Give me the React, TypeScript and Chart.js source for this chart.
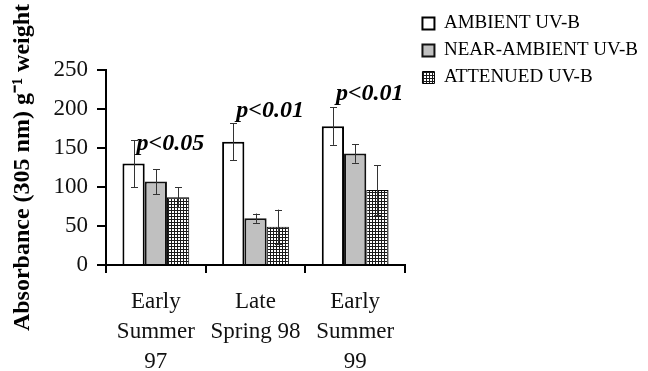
import React, { useEffect, useRef } from 'react';
import { Chart, registerables } from 'chart.js';

Chart.register(...registerables);

const categories: string[][] = [
  ['Early', 'Summer', '97'],
  ['Late', 'Spring 98'],
  ['Early', 'Summer', '99'],
];
const seriesNames = ['AMBIENT UV-B', 'NEAR-AMBIENT UV-B', 'ATTENUED UV-B'];
const ambient = [130, 158, 178];
const ambientErr = [30, 24, 24];
const nearAmbient = [107, 60, 143];
const nearAmbientErr = [16, 6, 12];
const attenued = [87, 49, 96];
const attenuedErr = [13, 22, 32];
const pLabels = ['p<0.05', 'p<0.01', 'p<0.01'];
const pLabelValues = [156, 198, 220];
const yMin = 0;
const yMax = 250;
const yStep = 50;
const yTitle = 'Absorbance (305 nm) g\u207B\u00B9 weight';

const SERIF = '"Liberation Serif", "Times New Roman", serif';
const PAD_RIGHT = 0;
const PLOT_RIGHT = 405;

function makeHatch(ctx: CanvasRenderingContext2D): CanvasPattern | string {
  const c = document.createElement('canvas');
  c.width = 3;
  c.height = 3;
  const g = c.getContext('2d');
  if (!g) return '#888';
  g.fillStyle = '#ffffff';
  g.fillRect(0, 0, 3, 3);
  g.fillStyle = '#1a1a1a';
  g.fillRect(0, 0, 3, 1);
  g.fillRect(0, 0, 1, 3);
  return ctx.createPattern(c, 'repeat') || '#888';
}

const errorBarPlugin = {
  id: 'errorBars',
  afterDatasetsDraw(chart: any) {
    const ctx = chart.ctx;
    const yScale = chart.scales.y;
    ctx.save();
    chart.data.datasets.forEach((ds: any, di: number) => {
      const meta = chart.getDatasetMeta(di);
      if (!meta || meta.hidden) return;
      meta.data.forEach((bar: any, i: number) => {
        const v = ds.data[i];
        const e = ds.errors ? ds.errors[i] : 0;
        if (!e) return;
        const x = Math.round(bar.x) + 0.5;
        const yt = yScale.getPixelForValue(v + e);
        const yb = yScale.getPixelForValue(v - e);
        ctx.strokeStyle = '#333';
        ctx.lineWidth = 1;
        ctx.beginPath();
        ctx.moveTo(x, yt);
        ctx.lineTo(x, yb);
        ctx.moveTo(x - 3.5, Math.round(yt) + 0.5);
        ctx.lineTo(x + 3.5, Math.round(yt) + 0.5);
        ctx.moveTo(x - 3.5, Math.round(yb) + 0.5);
        ctx.lineTo(x + 3.5, Math.round(yb) + 0.5);
        ctx.stroke();
      });
    });
    ctx.restore();
  },
};

const pValuePlugin = {
  id: 'pValues',
  afterDatasetsDraw(chart: any) {
    const ctx = chart.ctx;
    const yScale = chart.scales.y;
    const meta = chart.getDatasetMeta(0);
    ctx.save();
    ctx.font = `italic bold 24px ${SERIF}`;
    ctx.fillStyle = '#000';
    ctx.textAlign = 'left';
    ctx.textBaseline = 'middle';
    meta.data.forEach((bar: any, i: number) => {
      if (!pLabels[i]) return;
      ctx.fillText(pLabels[i], bar.x + 3, yScale.getPixelForValue(pLabelValues[i]));
    });
    ctx.restore();
  },
};

export default function App() {
  const ref = useRef<HTMLCanvasElement | null>(null);

  useEffect(() => {
    const canvas = ref.current;
    if (!canvas) return;
    const ctx = canvas.getContext('2d');
    if (!ctx) return;
    const hatch = makeHatch(ctx);

    const chart = new Chart(ctx, {
      type: 'bar',
      data: {
        labels: categories,
        datasets: [
          {
            label: seriesNames[0],
            data: ambient,
            errors: ambientErr,
            backgroundColor: '#ffffff',
            borderColor: '#000000',
            borderWidth: 2,
          } as any,
          {
            label: seriesNames[1],
            data: nearAmbient,
            errors: nearAmbientErr,
            backgroundColor: '#c0c0c0',
            borderColor: '#111111',
            borderWidth: 2,
          } as any,
          {
            label: seriesNames[2],
            data: attenued,
            errors: attenuedErr,
            backgroundColor: hatch,
            borderColor: '#000000',
            borderWidth: 1,
          } as any,
        ],
      },
      options: {
        responsive: false,
        animation: false,
        devicePixelRatio: 1,
        datasets: {
          bar: {
            categoryPercentage: 0.67,
            barPercentage: 1.0,
          },
        },
        layout: {
          padding: { top: 6, right: PAD_RIGHT, bottom: 0, left: 0 },
        },
        plugins: {
          title: {
            display: true,
            text: '',
            font: { size: 10, lineHeight: 1 },
            padding: { top: 54, bottom: 0 },
          },
          legend: {
            display: true,
            position: 'right',
            align: 'start',
            maxWidth: 400,
            labels: {
              boxWidth: 12,
              boxHeight: 12,
              padding: 8,
              color: '#000',
              font: { family: SERIF, size: 19 },
            },
          },
          tooltip: { enabled: false },
        },
        scales: {
          x: {
            z: 1,
            grid: {
              display: true,
              drawOnChartArea: false,
              drawTicks: true,
              tickLength: 8,
              color: '#000',
              lineWidth: 2,
              offset: true,
            },
            border: { display: true, color: '#000', width: 2 },
            ticks: {
              color: '#111',
              padding: 14.5,
              font: { family: SERIF, size: 23, lineHeight: 1.3 },
              maxRotation: 0,
              autoSkip: false,
            },
            afterFit: (s: any) => {
              s.height = 106;
            },
          },
          y: {
            z: 1,
            min: yMin,
            max: yMax,
            grid: {
              display: true,
              drawOnChartArea: false,
              drawTicks: true,
              tickLength: 9,
              color: '#000',
              lineWidth: 2,
            },
            border: { display: true, color: '#000', width: 2 },
            ticks: {
              stepSize: yStep,
              color: '#111',
              padding: 9,
              font: { family: SERIF, size: 23 },
            },
            title: {
              display: true,
              text: yTitle,
              color: '#000',
              font: { family: SERIF, size: 24, weight: 'bold' },
              padding: { top: 8, bottom: 0 },
            },
            afterFit: (s: any) => {
              s.width = 106;
            },
          },
          y2: {
            position: 'right',
            display: true,
            grid: { display: false },
            border: { display: false },
            ticks: { display: false },
            afterFit: (s: any) => {
              const lg = s.chart.legend;
              const lw = lg ? lg.width : 0;
              s.width = Math.max(0, s.chart.width - PAD_RIGHT - lw - PLOT_RIGHT);
            },
          },
        },
      } as any,
      plugins: [errorBarPlugin, pValuePlugin],
    });

    return () => {
      chart.destroy();
    };
  }, []);

  return (
    <div
      style={{
        position: 'fixed',
        left: 0,
        top: 0,
        width: 648,
        height: 371,
        background: '#ffffff',
      }}
    >
      <canvas ref={ref} width={648} height={371} style={{ display: 'block' }} />
    </div>
  );
}
